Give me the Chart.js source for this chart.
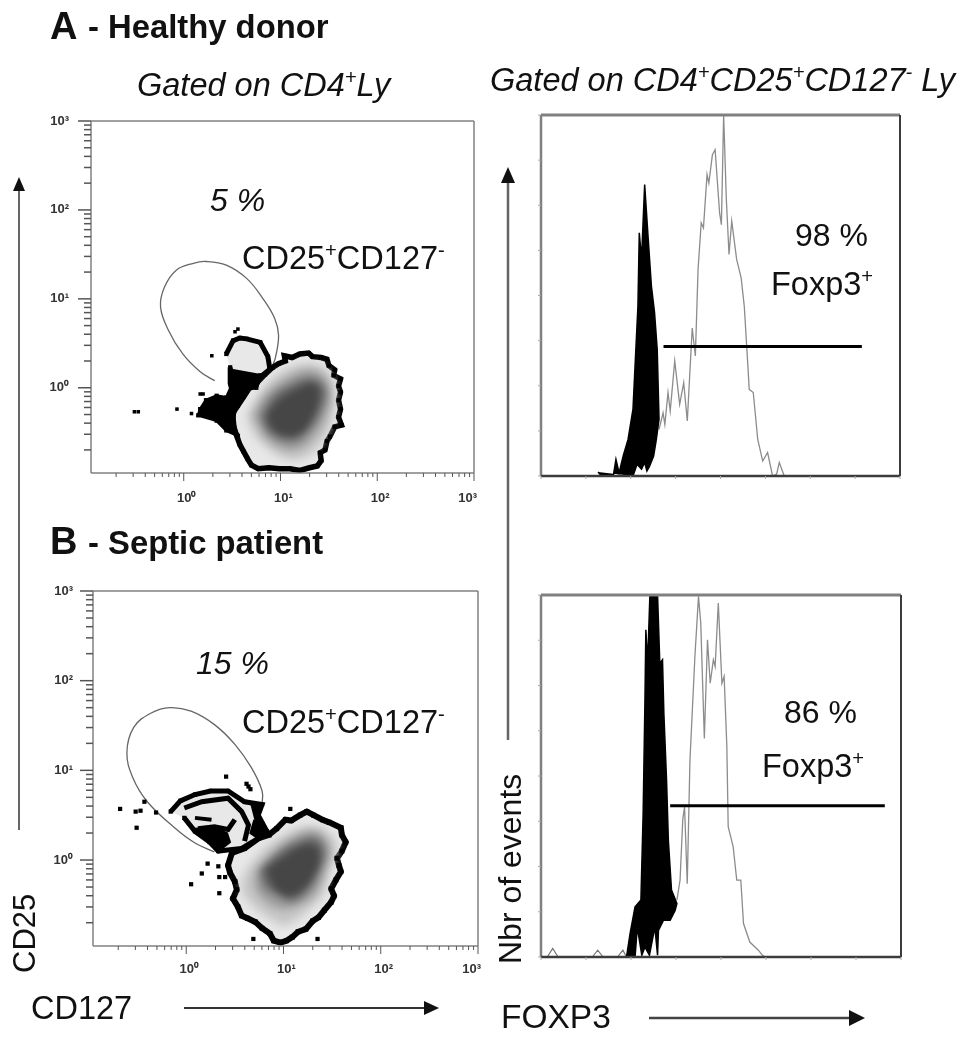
<!DOCTYPE html>
<html>
<head>
<meta charset="utf-8">
<title>CD25 CD127 FOXP3</title>
<script src="https://cdn.jsdelivr.net/npm/chart.js@4"></script>
<style>
  html, body { margin: 0; background: #fff; }
  #page { position: relative; width: 968px; height: 1050px; overflow: hidden; font-family: "Liberation Sans", Arial, sans-serif; color: #111; }
  .panel { position: absolute; }
  .t { position: absolute; white-space: nowrap; line-height: 1; }
  .t sup { font-size: 62%; line-height: 0; vertical-align: 0.62em; }
  .i { font-style: italic; }
  .b { font-weight: bold; }
  .v { transform-origin: left top; transform: rotate(-90deg); }
  svg { position: absolute; left: 0; top: 0; }
</style>
</head>
<body>
<div id="page">
  <div class="panel" style="left:30px;top:100px;width:460px;height:410px"><canvas id="dotA"></canvas></div>
  <div class="panel" style="left:530px;top:100px;width:380px;height:390px"><canvas id="histA"></canvas></div>
  <div class="panel" style="left:30px;top:570px;width:460px;height:410px"><canvas id="dotB"></canvas></div>
  <div class="panel" style="left:530px;top:580px;width:380px;height:390px"><canvas id="histB"></canvas></div>

  <svg width="968" height="1050">
    <line x1="19" y1="830" x2="19" y2="190" stroke="#666" stroke-width="2"/>
    <polygon points="19,177 13,191 25,191" fill="#111"/>
    <line x1="508" y1="740" x2="508" y2="180" stroke="#666" stroke-width="2.5"/>
    <polygon points="508,167 501,183 515,183" fill="#111"/>
    <line x1="184" y1="1008" x2="428" y2="1008" stroke="#333" stroke-width="2"/>
    <polygon points="439,1008 424,1001 424,1015" fill="#111"/>
    <line x1="649" y1="1018" x2="852" y2="1018" stroke="#444" stroke-width="2.5"/>
    <polygon points="865,1018 849,1010 849,1026" fill="#111"/>
  </svg>

  <div class="t b" style="left:50px;top:7px;font-size:38px">A</div>
  <div class="t b" style="left:88px;top:11px;font-size:32.8px">- Healthy donor</div>
  <div class="t i" style="left:137px;top:69px;font-size:32.5px">Gated on CD4<sup>+</sup>Ly</div>
  <div class="t i" style="left:490px;top:64px;font-size:32.5px">Gated on CD4<sup>+</sup>CD25<sup>+</sup>CD127<sup>-</sup> Ly</div>
  <div class="t i" style="left:210px;top:184px;font-size:32px">5 %</div>
  <div class="t" style="left:242px;top:242px;font-size:32.5px">CD25<sup>+</sup>CD127<sup>-</sup></div>
  <div class="t" style="left:795px;top:219px;font-size:32px">98 %</div>
  <div class="t" style="left:771px;top:268px;font-size:32.5px">Foxp3<sup>+</sup></div>

  <div class="t b" style="left:50px;top:522px;font-size:38px">B</div>
  <div class="t b" style="left:88px;top:527px;font-size:32.8px">- Septic patient</div>
  <div class="t i" style="left:196px;top:647px;font-size:32px">15 %</div>
  <div class="t" style="left:242px;top:706px;font-size:32.5px">CD25<sup>+</sup>CD127<sup>-</sup></div>
  <div class="t" style="left:784px;top:696px;font-size:32px">86 %</div>
  <div class="t" style="left:762px;top:750px;font-size:32.5px">Foxp3<sup>+</sup></div>

  <div class="t v" style="left:9px;top:973px;font-size:31px">CD25</div>
  <div class="t v" style="left:494px;top:964px;font-size:32px">Nbr of events</div>
  <div class="t" style="left:31px;top:992px;font-size:32.5px">CD127</div>
  <div class="t" style="left:501px;top:1000px;font-size:33.5px">FOXP3</div>
</div>

<script>
// Log axes of the two dot plots
const logMin = 0.11;
const logMax = 1000;
const logTickValues = [0.2, 0.3, 0.4, 0.5, 0.6, 0.7, 0.8, 0.9, 1, 2, 3, 4, 5, 6, 7, 8, 9, 10, 20, 30, 40, 50, 60, 70, 80, 90, 100, 200, 300, 400, 500, 600, 700, 800, 900, 1000];
const majorTickValues = [1, 10, 100, 1000];
const majorTickLabels = ['10⁰', '10¹', '10²', '10³'];

// Everything below for the dot plots is [log10 CD127, log10 CD25]
const gateA = [[0.32,0.08],[0.17,0.18],[-0.01,0.38],[-0.16,0.65],[-0.24,0.91],[-0.2,1.13],[-0.08,1.32],[0.1,1.4],[0.23,1.42],[0.44,1.38],[0.65,1.23],[0.82,1.0],[0.94,0.78],[0.98,0.59],[0.95,0.35],[0.92,0.25]];
const outerA = [[0.92,0.23],[0.98,0.27],[1.05,0.3],[1.04,0.36],[1.12,0.34],[1.2,0.38],[1.29,0.39],[1.33,0.35],[1.42,0.34],[1.48,0.32],[1.5,0.25],[1.56,0.2],[1.55,0.14],[1.62,0.1],[1.6,0.02],[1.62,-0.05],[1.6,-0.14],[1.62,-0.24],[1.6,-0.33],[1.63,-0.42],[1.56,-0.44],[1.51,-0.55],[1.48,-0.6],[1.46,-0.7],[1.41,-0.73],[1.42,-0.82],[1.38,-0.88],[1.3,-0.9],[1.2,-0.93],[1.1,-0.91],[0.99,-0.91],[0.88,-0.9],[0.77,-0.91],[0.7,-0.87],[0.66,-0.8],[0.62,-0.72],[0.58,-0.64],[0.55,-0.55],[0.52,-0.46],[0.51,-0.35],[0.51,-0.28],[0.56,-0.2],[0.62,-0.1],[0.68,0.0],[0.76,0.06],[0.84,0.15],[0.92,0.23]];
const levelA2 = [[0.65,-0.33],[0.79,-0.07],[0.99,0.16],[1.27,0.27],[1.48,0.2],[1.56,-0.03],[1.53,-0.37],[1.44,-0.59],[1.27,-0.78],[1.06,-0.8],[0.86,-0.67],[0.72,-0.52]];
const levelA3 = [[0.72,-0.31],[0.84,-0.09],[1.06,0.1],[1.3,0.2],[1.46,0.1],[1.51,-0.07],[1.46,-0.33],[1.34,-0.55],[1.17,-0.69],[0.99,-0.67],[0.84,-0.55]];
const levelA4 = [[0.8,-0.33],[0.91,-0.12],[1.11,0.03],[1.34,0.1],[1.46,-0.03],[1.41,-0.26],[1.3,-0.46],[1.15,-0.59],[0.99,-0.57],[0.86,-0.48]];
const levelA5 = [[0.87,-0.31],[0.98,-0.16],[1.17,-0.03],[1.34,0.03],[1.39,-0.09],[1.32,-0.33],[1.2,-0.5],[1.03,-0.52],[0.91,-0.44]];
const lobeA = [[0.44,0.38],[0.51,0.53],[0.58,0.56],[0.65,0.55],[0.79,0.51],[0.87,0.35],[0.89,0.21],[0.79,0.12],[0.75,0.03],[0.61,-0.03],[0.51,-0.07],[0.48,0.05],[0.48,0.23]];
const clumpA = [[0.48,0.2],[0.79,0.14],[0.75,0.0],[0.61,-0.03],[0.55,-0.18],[0.51,-0.37],[0.56,-0.54],[0.44,-0.48],[0.34,-0.37],[0.15,-0.31],[0.17,-0.24],[0.23,-0.14],[0.34,-0.09],[0.44,-0.11],[0.49,0.01]];
const specksA = [[-0.51,-0.27],[-0.47,-0.27],[-0.07,-0.24],[0.08,-0.29],[0.29,0.36],[0.56,0.66],[0.53,0.63],[0.17,-0.07],[0.2,-0.07]];

const gateB = [[0.29,0.09],[0.09,0.19],[-0.12,0.36],[-0.4,0.65],[-0.55,0.92],[-0.61,1.2],[-0.54,1.48],[-0.36,1.64],[-0.17,1.7],[0.05,1.66],[0.29,1.51],[0.5,1.29],[0.67,1.03],[0.78,0.77],[0.78,0.62]];
const outerB = [[0.85,0.28],[0.93,0.35],[1.02,0.45],[1.08,0.44],[1.17,0.5],[1.24,0.54],[1.31,0.5],[1.4,0.45],[1.47,0.42],[1.59,0.36],[1.6,0.28],[1.64,0.2],[1.6,0.1],[1.55,0.02],[1.57,-0.06],[1.59,-0.13],[1.54,-0.22],[1.49,-0.32],[1.52,-0.4],[1.49,-0.47],[1.42,-0.56],[1.36,-0.64],[1.3,-0.68],[1.23,-0.77],[1.15,-0.8],[1.09,-0.86],[1.03,-0.9],[0.97,-0.92],[0.9,-0.9],[0.86,-0.82],[0.78,-0.76],[0.71,-0.69],[0.63,-0.65],[0.57,-0.62],[0.53,-0.52],[0.48,-0.43],[0.52,-0.33],[0.5,-0.24],[0.45,-0.14],[0.43,-0.06],[0.47,0.08],[0.6,0.13],[0.74,0.24],[0.85,0.28]];
const levelB2 = [[0.57,-0.21],[0.71,0.02],[0.95,0.24],[1.26,0.37],[1.49,0.28],[1.55,0.13],[1.47,-0.13],[1.4,-0.39],[1.23,-0.58],[1.02,-0.73],[0.85,-0.65],[0.67,-0.5],[0.57,-0.36]];
const levelB3 = [[0.71,-0.15],[0.88,0.06],[1.09,0.24],[1.33,0.32],[1.47,0.13],[1.43,-0.09],[1.33,-0.36],[1.16,-0.5],[0.98,-0.54],[0.81,-0.45],[0.71,-0.32]];
const levelB4 = [[0.76,-0.11],[0.93,0.06],[1.12,0.19],[1.33,0.24],[1.42,0.09],[1.36,-0.13],[1.26,-0.32],[1.09,-0.45],[0.92,-0.37],[0.81,-0.3]];
const levelB5 = [[0.83,-0.11],[0.97,0],[1.16,0.13],[1.31,0.15],[1.36,0.02],[1.3,-0.17],[1.19,-0.32],[1.05,-0.39],[0.92,-0.32]];
const lobeB = [[-0.16,0.54],[-0.06,0.66],[0.09,0.73],[0.25,0.77],[0.43,0.77],[0.6,0.65],[0.78,0.62],[0.74,0.5],[0.83,0.32],[0.74,0.24],[0.57,0.13],[0.33,0.1],[0.24,0.2],[0.09,0.32],[-0.02,0.47]];
const lobeLinesB1 = [[-0.02,0.58],[0.16,0.65],[0.43,0.69],[0.57,0.54],[0.64,0.39],[0.6,0.21]];
const lobeLinesB2 = [[0.12,0.35],[0.29,0.37],[0.43,0.34],[0.5,0.45]];
const lobeLinesB3 = [[0.09,0.47],[0.26,0.45]];
const clumpB1 = [[0.09,0.35],[0.29,0.36],[0.42,0.3],[0.45,0.2],[0.33,0.1],[0.24,0.2]];
const clumpB2 = [[0.66,0.62],[0.78,0.62],[0.74,0.5],[0.83,0.32],[0.74,0.24],[0.66,0.3],[0.7,0.45]];
const specksB = [[-0.68,0.57],[-0.52,0.54],[-0.47,0.55],[-0.31,0.53],[-0.51,0.36],[-0.43,0.65],[0.41,0.93],[0.64,0.82],[0.62,0.85],[0.66,0.79],[1.07,0.57],[0.33,0.15],[0.22,-0.04],[0.33,-0.07],[0.16,-0.15],[0.05,-0.27],[0.34,-0.37],[0.34,-0.19],[0.4,-0.19],[0.69,-0.88],[1.35,-0.88]];

// Histograms: x and y are in units of the unlabelled tick marks (0 to 8 on both axes)
const histTickMax = 8;
const blackAX = [1.27, 1.35, 1.61, 1.67, 1.74, 1.83, 1.94, 2.05, 2.11, 2.16, 2.19, 2.24, 2.31, 2.39, 2.46, 2.53, 2.59, 2.63, 2.57, 2.51, 2.42, 2.36, 2.31, 2.24, 2.14, 2.05];
const blackAY = [0.09, 0, 0, 0.37, 0.07, 0.44, 0.81, 1.48, 2.73, 3.76, 5.39, 4.8, 6.46, 5.24, 4.21, 3.62, 2.8, 1.26, 0.81, 0.44, 0.22, 0.11, 0.3, 0.15, 0.26, 0];
const grayAX = [2.63, 2.72, 2.76, 2.83, 2.88, 2.98, 3.09, 3.18, 3.26, 3.37, 3.44, 3.5, 3.57, 3.62, 3.7, 3.74, 3.82, 3.88, 3.98, 4.02, 4.07, 4.13, 4.19, 4.25, 4.36, 4.46, 4.53, 4.61, 4.64, 4.73, 4.83, 4.94, 5.05, 5.16, 5.25, 5.31, 5.42];
const grayAY = [1.03, 1.4, 1.14, 1.85, 1.44, 2.55, 1.59, 2.07, 1.22, 3.28, 2.66, 4.58, 5.61, 5.5, 6.68, 6.49, 7.12, 7.23, 5.83, 5.57, 8, 6.13, 4.91, 5.65, 4.8, 4.39, 3.76, 2.44, 1.92, 1.85, 0.81, 0.33, 0.52, 0, 0.04, 0.3, 0];
const gateLineAX = [2.73, 7.15];
const gateLineAY = [2.87, 2.87];

const blackBX = [1.9, 1.98, 2.09, 2.22, 2.27, 2.31, 2.33, 2.37, 2.42, 2.59, 2.64, 2.7, 2.73, 2.79, 2.83, 2.9, 3.02, 2.98, 2.87, 2.72, 2.61, 2.59, 2.53, 2.41, 2.31, 2.24, 2.14, 2.09];
const blackBY = [0, 0.52, 1.11, 1.26, 3.17, 5.68, 7.23, 6.49, 8, 8, 6.49, 6.57, 5.39, 3.91, 2.58, 1.48, 1.18, 1.03, 0.81, 0.81, 0.59, 0.04, 0.66, 0.04, 0.22, 0.04, 0.66, 0];
const grayBX = [3.02, 3.09, 3.15, 3.19, 3.25, 3.31, 3.42, 3.5, 3.55, 3.63, 3.7, 3.76, 3.83, 3.87, 3.94, 4.02, 4.07, 4.13, 4.16, 4.27, 4.35, 4.44, 4.5, 4.64, 4.83, 4.92, 4.98];
const grayBY = [1.26, 1.7, 3.03, 3.32, 1.62, 4.35, 6.64, 7.97, 7.38, 4.83, 7.01, 6.05, 6.57, 6.42, 7.82, 6.05, 6.2, 4.65, 2.88, 2.44, 1.7, 1.7, 0.74, 0.33, 0.15, 0.04, 0];
const bumpBX = [0.14, 0.26, 0.38, 1.14, 1.26, 1.38, 1.7, 1.82, 1.9];
const bumpBY = [0, 0.19, 0, 0, 0.15, 0, 0, 0.15, 0];
const gateLineBX = [2.87, 7.64];
const gateLineBY = [3.34, 3.34];

// Gray steps of the dot plot density, light to dark
const densityColors = ['#e8e8e8', '#c6c6c6', '#989898', '#5e5e5e', '#464646'];

Chart.defaults.font.family = '"Liberation Sans", Arial, sans-serif';

function logPoints(pairs) {
    return pairs.map(p => ({ x: Math.pow(10, p[0]), y: Math.pow(10, p[1]) }));
}

function xyPoints(xs, ys) {
    return xs.map((x, i) => ({ x: x, y: ys[i] }));
}

function line(points, color, width, extra) {
    return Object.assign({
        data: points, showLine: true, fill: false, pointRadius: 0,
        borderColor: color, borderWidth: width, borderJoinStyle: 'miter', tension: 0
    }, extra || {});
}

function shape(points, fillColor, borderColor, borderWidth, extra) {
    return line(points, borderColor, borderWidth, Object.assign({ fill: 'shape', backgroundColor: fillColor }, extra || {}));
}

function specks(points, size) {
    return { data: points, showLine: false, pointStyle: 'rect', pointRadius: size, backgroundColor: '#000', borderColor: '#000', borderWidth: 0 };
}

// Sets ctx.filter for whichever dataset is painted next, this has to happen before
// the filler plugin runs, so it is done at the end of the previous dataset
function blurFor(chart, meta) {
    const ds = meta ? chart.data.datasets[meta.index] : null;
    chart.ctx.filter = ds && ds.blur ? 'blur(' + ds.blur + 'px)' : 'none';
}

const densityBlur = {
    id: 'densityBlur',
    beforeDatasetsDraw(chart) {
        const metas = chart.getSortedVisibleDatasetMetas();
        blurFor(chart, metas[metas.length - 1]);
    },
    afterDatasetDraw(chart, args) {
        const metas = chart.getSortedVisibleDatasetMetas();
        blurFor(chart, metas[metas.indexOf(args.meta) - 1]);
    },
    afterDatasetsDraw(chart) {
        chart.ctx.filter = 'none';
    }
};

// Frame and tick marks, the library only has one tick length per axis
const frameAndTicks = {
    id: 'frameAndTicks',
    afterDraw(chart, args, opts) {
        const ctx = chart.ctx;
        const a = chart.chartArea;
        ctx.save();
        const side = (x1, y1, x2, y2, color, width) => {
            ctx.strokeStyle = color;
            ctx.lineWidth = width;
            ctx.beginPath();
            ctx.moveTo(x1, y1);
            ctx.lineTo(x2, y2);
            ctx.stroke();
        };
        side(a.left, a.top, a.right, a.top, opts.topColor, opts.topWidth);
        side(a.left, a.top, a.left, a.bottom, opts.topColor, opts.leftWidth);
        side(a.right, a.top, a.right, a.bottom, opts.endColor, opts.endWidth);
        side(a.left, a.bottom, a.right, a.bottom, opts.endColor, opts.bottomWidth);
        chart.scales.x.ticks.forEach(t => {
            const px = chart.scales.x.getPixelForValue(t.value);
            const len = majorTickValues.includes(t.value) && opts.log ? 8 : opts.xLen;
            side(px, a.bottom, px, a.bottom + len, opts.tickColor, 1);
        });
        chart.scales.y.ticks.forEach(t => {
            const py = chart.scales.y.getPixelForValue(t.value);
            const len = majorTickValues.includes(t.value) && opts.log ? 13 : opts.yLen;
            side(a.left - len, py, a.left, py, opts.tickColor, opts.log ? 1.5 : 1);
        });
        ctx.restore();
    }
};

// Fixed axis size, and no extra room for the outermost labels
function fixAxisSize(scale, size, isX) {
    if (isX) scale.height = size; else scale.width = size;
    scale.paddingLeft = 0;
    scale.paddingRight = 0;
    scale.paddingTop = 0;
    scale.paddingBottom = 0;
}

function logAxis(size, padding, isX) {
    return {
        type: 'logarithmic',
        min: logMin,
        max: logMax,
        afterBuildTicks(scale) {
            scale.ticks = logTickValues.map(v => ({ value: v }));
        },
        afterFit(scale) {
            fixAxisSize(scale, size, isX);
        },
        ticks: {
            autoSkip: false,
            maxRotation: 0,
            padding: padding,
            labelOffset: isX ? 3 : 0,
            align: isX ? 'inner' : 'center',
            color: '#333',
            font: { size: 13, weight: 'bold' },
            callback(value) {
                const i = majorTickValues.indexOf(value);
                return i >= 0 ? majorTickLabels[i] : '';
            }
        },
        grid: { display: false },
        border: { display: false }
    };
}

function histAxis(size, isX) {
    return {
        type: 'linear',
        min: 0,
        max: histTickMax,
        afterFit(scale) {
            fixAxisSize(scale, size, isX);
        },
        ticks: { stepSize: 1, display: false },
        grid: { display: false },
        border: { display: false }
    };
}

function drawPanel(id, layers, scales, padding, frame, plugins) {
    new Chart(document.getElementById(id), {
        type: 'scatter',
        data: { datasets: layers.slice().reverse() }, // first dataset paints last in Chart.js
        options: {
            responsive: true,
            maintainAspectRatio: false,
            animation: false,
            layout: { padding: padding },
            scales: scales,
            plugins: {
                legend: { display: false },
                tooltip: { enabled: false },
                frameAndTicks: frame
            }
        },
        plugins: plugins
    });
}

const dotFrame = { log: true, topColor: '#808080', endColor: '#808080', topWidth: 1.5, leftWidth: 1.5, endWidth: 1.5, bottomWidth: 1.5, tickColor: '#555', xLen: 4, yLen: 7 };
const histFrame = { log: false, topColor: '#808080', endColor: '#3c3c3c', topWidth: 3, leftWidth: 2.5, endWidth: 2, bottomWidth: 2.5, tickColor: '#aaa', xLen: 3, yLen: 3 };

drawPanel('dotA', [
    line(logPoints(gateA), '#666', 1.3, { tension: 0.4 }),
    shape(logPoints(outerA), densityColors[0], '#000', 5.5),
    shape(logPoints(levelA2), densityColors[1], 'transparent', 0, { blur: 5, tension: 0.4 }),
    shape(logPoints(levelA3), densityColors[2], 'transparent', 0, { blur: 5, tension: 0.4 }),
    shape(logPoints(levelA4), densityColors[3], 'transparent', 0, { blur: 4, tension: 0.4 }),
    shape(logPoints(levelA5), densityColors[4], 'transparent', 0, { blur: 3, tension: 0.4 }),
    specks(logPoints(outerA), 3),
    shape(logPoints(lobeA), densityColors[0], '#000', 5),
    shape(logPoints(clumpA), '#000', '#000', 3),
    specks(logPoints(lobeA), 3),
    specks(logPoints(clumpA), 3),
    specks(logPoints(specksA), 2.5)
], { x: logAxis(37, 10, true), y: logAxis(61, 14, false) }, { top: 21, right: 16 }, dotFrame, [densityBlur, frameAndTicks]);

drawPanel('dotB', [
    line(logPoints(gateB), '#666', 1.3, { tension: 0.4 }),
    shape(logPoints(outerB), densityColors[0], '#000', 6),
    shape(logPoints(levelB2), densityColors[1], 'transparent', 0, { blur: 5, tension: 0.4 }),
    shape(logPoints(levelB3), densityColors[2], 'transparent', 0, { blur: 5, tension: 0.4 }),
    shape(logPoints(levelB4), densityColors[3], 'transparent', 0, { blur: 4, tension: 0.4 }),
    shape(logPoints(levelB5), densityColors[4], 'transparent', 0, { blur: 3, tension: 0.4 }),
    specks(logPoints(outerB), 3.5),
    shape(logPoints(lobeB), densityColors[0], '#000', 5),
    line(logPoints(lobeLinesB1), '#000', 5),
    line(logPoints(lobeLinesB2), '#000', 5),
    line(logPoints(lobeLinesB3), '#000', 4),
    shape(logPoints(clumpB1), '#000', '#000', 2),
    shape(logPoints(clumpB2), '#000', '#000', 2),
    specks(logPoints(lobeB), 3),
    specks(logPoints(specksB), 3)
], { x: logAxis(34, 8, true), y: logAxis(63, 12, false) }, { top: 21, right: 12 }, dotFrame, [densityBlur, frameAndTicks]);

drawPanel('histA', [
    line(xyPoints(grayAX, grayAY), '#8c8c8c', 1.3),
    shape(xyPoints(blackAX, blackAY), '#000', '#000', 1.5),
    line(xyPoints(gateLineAX, gateLineAY), '#000', 3)
], { x: histAxis(14, true), y: histAxis(11, false) }, { top: 15, right: 10 }, histFrame, [frameAndTicks]);

drawPanel('histB', [
    line(xyPoints(grayBX, grayBY), '#8c8c8c', 1.3),
    line(xyPoints(bumpBX, bumpBY), '#777', 1.2),
    shape(xyPoints(blackBX, blackBY), '#000', '#000', 1.5),
    line(xyPoints(gateLineBX, gateLineBY), '#000', 3)
], { x: histAxis(13, true), y: histAxis(11, false) }, { top: 15, right: 9 }, histFrame, [frameAndTicks]);
</script>
</body>
</html>
